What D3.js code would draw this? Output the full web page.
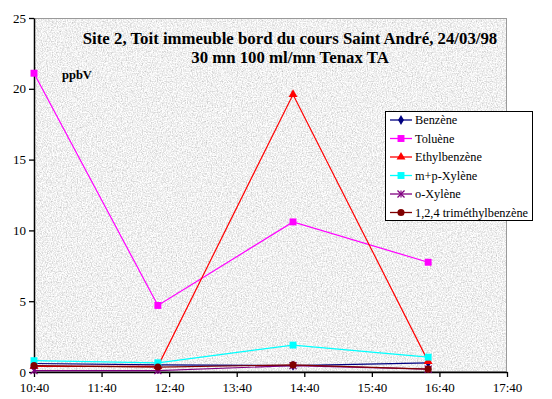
<!DOCTYPE html>
<html><head><meta charset="utf-8">
<script src="https://cdn.jsdelivr.net/npm/d3@7"></script>
<style>body{margin:0;background:#fff}svg{display:block}</style>
</head><body>
<script>
const times = ["10:40","12:30","14:30","16:30"];
const seriesNames = ["Benzène","Toluène","Ethylbenzène","m+p-Xylène","o-Xylène","1,2,4 triméthylbenzène"];
const benzene = [0.6, 0.5, 0.45, 0.65];
const toluene = [21.1, 4.7, 10.6, 7.75];
const ethylbenzene = [0.4, 0.4, 19.6, 0.75];
const mpXylene = [0.8, 0.65, 1.9, 1.05];
const oXylene = [0.1, 0.1, 0.45, 0.2];
const trimethyl = [0.45, 0.35, 0.5, 0.2];
const xTickLabels = ["10:40","11:40","12:40","13:40","14:40","15:40","16:40","17:40"];
const yTicks = [0,5,10,15,20,25];
const colors = ["#000080","#FF00FF","#FF0000","#00FFFF","#800080","#800000"];
const symbols = ["diamond","square","triangle","square","star","circle"];
const titleLines = ["Site 2, Toit immeuble bord du cours Saint André, 24/03/98","30 mn 100 ml/mn Tenax TA"];
const unitLabel = "ppbV";

const values = [benzene, toluene, ethylbenzene, mpXylene, oXylene, trimethyl];
const W = 552, H = 399;
const parse = d3.timeParse("%H:%M");
const m = {left:34, right:507, top:18, bottom:372};

const x = d3.scaleTime().domain([parse(xTickLabels[0]), parse(xTickLabels[xTickLabels.length-1])]).range([m.left, m.right]);
const y = d3.scaleLinear().domain([0,25]).range([m.bottom, m.top]);

const svg = d3.select("body").append("svg").attr("width",W).attr("height",H);
const defs = svg.append("defs");
const f = defs.append("filter").attr("id","tex").attr("x",0).attr("y",0).attr("width",1).attr("height",1);
f.append("feTurbulence").attr("type","fractalNoise").attr("baseFrequency",0.8).attr("numOctaves",3).attr("seed",3);
f.append("feColorMatrix").attr("type","matrix").attr("values","0.8 0 0 0 0.47  0.8 0 0 0 0.47  0.8 0 0 0 0.47  0 0 0 0 1");
defs.append("clipPath").attr("id","clip").append("rect").attr("x",m.left).attr("y",m.top).attr("width",m.right-m.left).attr("height",m.bottom-m.top);

svg.append("rect").attr("x",m.left).attr("y",m.top).attr("width",m.right-m.left).attr("height",m.bottom-m.top).attr("filter","url(#tex)");
svg.append("rect").attr("x",m.left+0.5).attr("y",m.top+0.5).attr("width",m.right-m.left-1).attr("height",m.bottom-m.top-1).attr("fill","none").attr("stroke","#9a9a9a").attr("stroke-width",1);

const font = "'Liberation Serif','Times New Roman',serif";

// axes
const yAxis = d3.axisLeft(y).tickValues(yTicks).tickSize(5).tickSizeOuter(0).tickFormat(d3.format("d"));
const gy = svg.append("g").attr("transform",`translate(${m.left},0)`).call(yAxis);
gy.select(".domain").attr("stroke","#000").attr("stroke-width",1.5);
gy.selectAll(".tick line").attr("stroke","#000").attr("stroke-width",1.3);
gy.selectAll("text").attr("font-family",font).attr("font-size",13).attr("fill","#000").attr("x",-8);

const xAxis = d3.axisBottom(x).tickValues(xTickLabels.map(parse)).tickSize(5).tickSizeOuter(0).tickFormat(d3.timeFormat("%H:%M"));
const gx = svg.append("g").attr("transform",`translate(0,${m.bottom})`).call(xAxis);
gx.select(".domain").attr("stroke","#000").attr("stroke-width",1.5);
gx.selectAll(".tick line").attr("stroke","#000").attr("stroke-width",1.3);
gx.selectAll("text").attr("font-family",font).attr("font-size",13).attr("fill","#000").attr("y",11);

// series
const symType = {diamond:d3.symbolDiamond, square:d3.symbolSquare, triangle:d3.symbolTriangle, star:d3.symbolTimes, circle:d3.symbolCircle};
const symSize = {diamond:30, square:48, triangle:34, star:34, circle:40};
function drawMarker(g, s, col, cx, cy){
  const p = g.append("path").attr("d", d3.symbol().type(symType[s]).size(symSize[s])()).attr("transform",`translate(${cx},${cy})`);
  if (s==="star") {
    p.attr("fill","none").attr("stroke",col).attr("stroke-width",1.3);
    g.append("line").attr("x1",cx).attr("x2",cx).attr("y1",cy-3.5).attr("y2",cy+3.5).attr("stroke",col).attr("stroke-width",1.2);
  } else p.attr("fill",col);
}
const plot = svg.append("g").attr("clip-path","url(#clip)");
const line = d3.line().x(d=>x(parse(d.t))).y(d=>y(d.v));
values.forEach((vals,i)=>{
  const pts = times.map((t,j)=>({t, v:vals[j]}));
  plot.append("path").datum(pts).attr("d",line).attr("fill","none").attr("stroke",colors[i]).attr("stroke-width",1.2);
});
const mk = svg.append("g");
values.forEach((vals,i)=>{
  times.forEach((t,j)=> drawMarker(mk, symbols[i], colors[i], x(parse(t)), y(vals[j])));
});

// title
svg.append("text").attr("x",290).attr("y",44).attr("text-anchor","middle").attr("font-family",font).attr("font-weight","bold").attr("font-size",16.8).text(titleLines[0]);
svg.append("text").attr("x",290).attr("y",63).attr("text-anchor","middle").attr("font-family",font).attr("font-weight","bold").attr("font-size",16.8).text(titleLines[1]);
svg.append("text").attr("x",62).attr("y",79).attr("font-family",font).attr("font-weight","bold").attr("font-size",12.5).text(unitLabel);

// legend
const lg = svg.append("g");
lg.append("rect").attr("x",385.5).attr("y",111.5).attr("width",147).attr("height",109).attr("fill","#fff").attr("stroke","#000").attr("stroke-width",1);
seriesNames.forEach((n,i)=>{
  const yy = 120 + i*18.5;
  lg.append("line").attr("x1",390).attr("x2",412).attr("y1",yy).attr("y2",yy).attr("stroke",colors[i]).attr("stroke-width",1.3);
  drawMarker(lg, symbols[i], colors[i], 401, yy);
  lg.append("text").attr("x",415).attr("y",yy+4).attr("font-family",font).attr("font-size",12.3).text(n);
});
</script>
</body></html>
